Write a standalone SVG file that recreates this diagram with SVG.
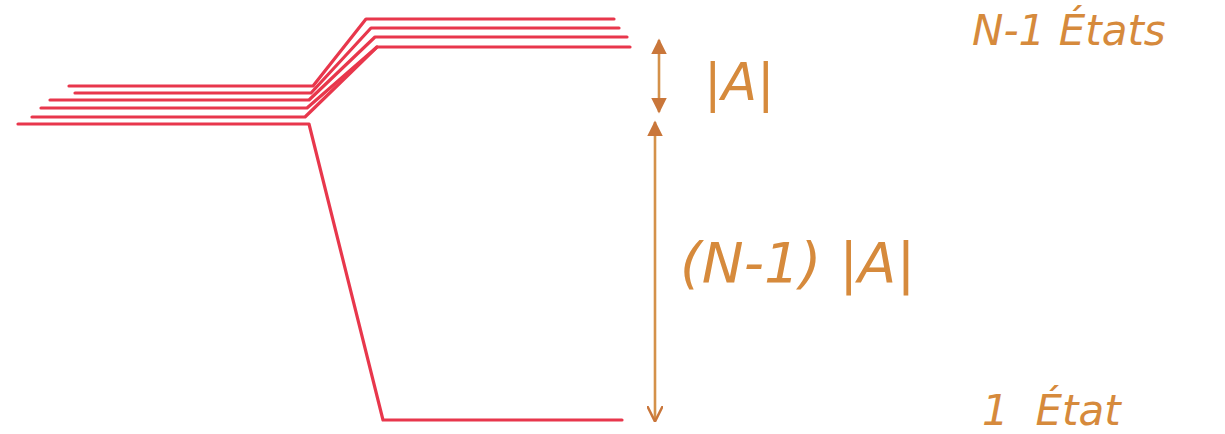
<svg xmlns="http://www.w3.org/2000/svg" width="1225" height="434" viewBox="0 0 1225 434">
<style>
.lvl{fill:none;stroke:#e8374c;stroke-width:3.2;stroke-linejoin:round;stroke-linecap:round}
.arr{fill:none;stroke:#d4914a;stroke-width:2.6}
.lbl{fill:#d68a3c;font-family:"DejaVu Sans","Liberation Sans",sans-serif;font-style:italic;font-weight:300}
</style>
<defs>
<marker id="hd" viewBox="0 0 10 10" refX="9" refY="5" markerWidth="6" markerHeight="6" orient="auto-start-reverse">
<path d="M0,0 L10,5 L0,10 z" fill="#c9763a"/>
</marker>
<marker id="hv" viewBox="0 0 10 10" refX="9" refY="5" markerWidth="6" markerHeight="6" orient="auto">
<path d="M0,0 L10,5 L0,10" fill="none" stroke="#c9763a" stroke-width="1.6"/>
</marker>
</defs>
<rect width="1225" height="434" fill="#ffffff"/>
<g id="levels">
<polyline class="lvl" points="69,86 313,86 366,19 614,19"/>
<polyline class="lvl" points="75,93 311,93 371,28 619,28"/>
<polyline class="lvl" points="50,100 309,100 375,37 627,37"/>
<polyline class="lvl" points="41,108 307,108 377,47 630,47"/>
<polyline class="lvl" points="32,117 305,117 377,47"/>
<polyline class="lvl" points="18,124 309,124 383,420 622,420"/>
</g>
<g id="connectors">
<line class="arr" x1="659" y1="40" x2="659" y2="112" marker-start="url(#hd)" marker-end="url(#hd)"/>
<line class="arr" x1="655" y1="122" x2="655" y2="420" marker-start="url(#hd)" marker-end="url(#hv)"/>
</g>
<g id="label-A"><text class="lbl" x="704" y="100" font-size="52">|A|</text></g>
<g id="label-NA"><text class="lbl" x="680" y="282" font-size="56">(N-1) |A|</text></g>
<g id="label-top"><text class="lbl" x="972" y="45" font-size="42">N-1 États</text></g>
<g id="label-bottom"><text class="lbl" x="982" y="425" font-size="42" xml:space="preserve">1  État</text></g>
</svg>
